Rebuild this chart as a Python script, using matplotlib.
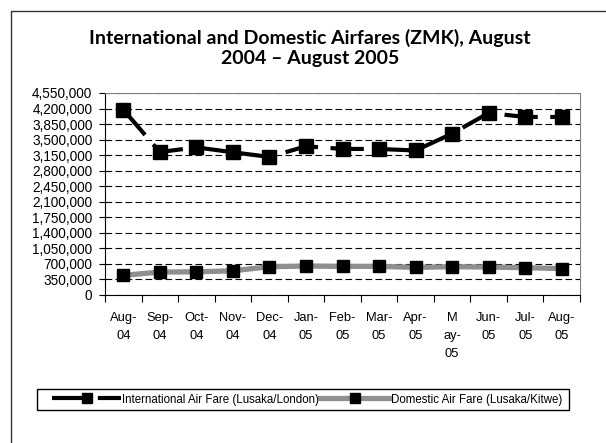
import matplotlib
matplotlib.use("Agg")
import matplotlib.pyplot as plt
from matplotlib.patches import Rectangle
from matplotlib.ticker import FuncFormatter, MultipleLocator
import numpy as np

meses = ['Aug-\n04', 'Sep-\n04', 'Oct-\n04', 'Nov-\n04', 'Dec-\n04', 'Jan-\n05',
         'Feb-\n05', 'Mar-\n05', 'Apr-\n05', 'M\nay-\n05', 'Jun-\n05', 'Jul-\n05', 'Aug-\n05']

internacional = [4175000, 3220000, 3325000, 3215000, 3110000, 3350000, 3290000,
                 3290000, 3255000, 3635000, 4100000, 4010000, 4010000]
domestico = [442000, 517000, 522000, 545000, 637000, 652000, 645000,
             645000, 622000, 637000, 630000, 615000, 595000]

rotulo_int = 'International Air Fare (Lusaka/London)'
rotulo_dom = 'Domestic Air Fare (Lusaka/Kitwe)'
titulo = 'International and Domestic Airfares (ZMK), August\n2004 \u2013 August 2005'

plt.rcParams['font.family'] = 'Liberation Sans'

fig = plt.figure(figsize=(6.06, 4.43), dpi=100)
W, H = 606, 443

# moldura externa do grafico
fig.patches.append(Rectangle((11 / W, -0.1), 1.2, 1 - 11 / H + 0.1, transform=fig.transFigure,
                             fill=False, edgecolor='#333333', linewidth=1))

ax = fig.add_axes([105 / W, 1 - 295 / H, (580 - 105) / W, (295 - 93) / H])
x = np.arange(len(meses))

ax.plot(x, domestico, color='#8f8f8f', linewidth=3.8, marker='s', markersize=9,
        markerfacecolor='black', markeredgecolor='black', label=rotulo_dom, zorder=3)
ax.plot(x, internacional, color='black', linewidth=3, marker='s', markersize=9.5,
        markerfacecolor='black', markeredgecolor='black', label=rotulo_int,
        dashes=(8, 3), zorder=4)

ax.set_xlim(-0.5, len(meses) - 0.5)
ax.set_ylim(0, 4550000)
ax.yaxis.set_major_locator(MultipleLocator(350000))
ax.yaxis.set_major_formatter(FuncFormatter(lambda v, p: f'{int(v):,}'))
ax.grid(axis='y', color='black', linestyle=(0, (6, 3)), linewidth=0.8)
ax.set_axisbelow(True)

ax.set_xticks(np.arange(-0.5, len(meses), 1.0))
ax.set_xticklabels([])
ax.set_xticks(x, minor=True)
ax.set_xticklabels(meses, minor=True, fontsize=9.3, linespacing=1.66, multialignment='center')
ax.tick_params(axis='x', which='major', length=5, direction='out', width=0.8)
ax.tick_params(axis='x', which='minor', length=0, pad=12)
ax.tick_params(axis='y', length=4, width=0.8, labelsize=9.8, pad=5)

for s in ['top', 'right']:
    ax.spines[s].set_color('#808080')
for s in ['left', 'bottom']:
    ax.spines[s].set_color('black')

fig.text(310 / W, 1 - 29 / H, titulo, ha='center', va='top', fontsize=14,
         fontweight='bold', family='Lato', linespacing=1.2)

# legenda sem moldura + retangulo desenhado a parte
handles, labels = ax.get_legend_handles_labels()
leg = fig.legend(handles[::-1], labels[::-1], loc='center left', ncol=2,
                 bbox_to_anchor=(52 / W, 1 - 399.5 / H), borderaxespad=0, borderpad=0,
                 fontsize=8.3, handlelength=6, numpoints=1, frameon=False,
                 handletextpad=0.1, columnspacing=0.1, markerscale=0.75)
fig.patches.append(Rectangle((37 / W, 1 - 410 / H), 532 / W, 21 / H, transform=fig.transFigure,
                             fill=False, edgecolor='black', linewidth=1))

fig.savefig('out.png', dpi=100)
